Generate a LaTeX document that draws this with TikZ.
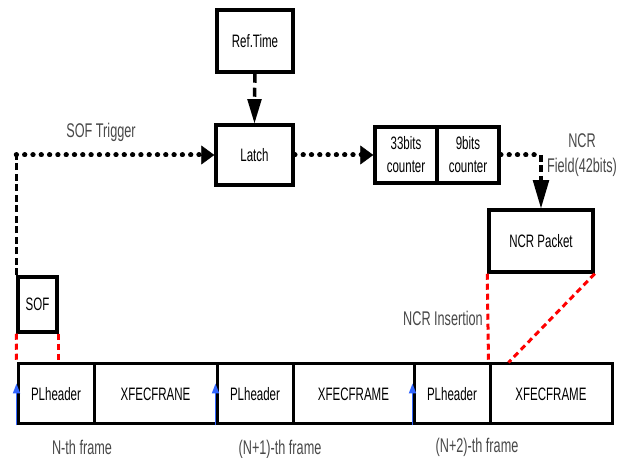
\documentclass[tikz,border=0pt]{standalone}
\usepackage{fontspec}
\setmainfont[FakeStretch=0.64]{Liberation Sans}
\usetikzlibrary{arrows.meta}

\definecolor{lblgray}{HTML}{484848}
\definecolor{mkblue}{HTML}{3366FF}

\begin{document}
\begin{tikzpicture}[x=1pt,y=1pt,
    font=\fontsize{18}{23}\selectfont,
    blk/.style={draw,line width=3.5pt,minimum height=60pt,inner sep=0pt,align=center},
    cell/.style={draw,line width=3pt,minimum height=60pt,inner sep=0pt},
    lbl/.style={text=lblgray,align=center,font=\fontsize{19.8}{25}\selectfont},
    htip/.style={-{Triangle[length=13pt,width=19pt]}},
    vtip/.style={-{Triangle[length=24pt,width=14pt]}},
    dotline/.style={line width=5pt,line cap=round,dash pattern=on 0.3pt off 8pt},
    dashline/.style={line width=3.5pt,dash pattern=on 7pt off 3.5pt},
    reddash/.style={red,line width=3pt,dash pattern=on 6pt off 4pt},
    startmark/.style={mkblue,line width=1.8pt,-{Triangle[length=10pt,width=7pt]}}]

      \useasboundingbox (0,0) rectangle (625,458);

      \path (255,417) node [blk,minimum width=76pt,minimum height=62pt](reftime){Ref.Time};
      \path (254.5,303) node [blk,minimum width=77pt](latch){Latch};
      \path (406,303) node [blk,minimum width=62pt,minimum height=56pt](cnt_a){33bits\\counter};
      \path (468,303) node [blk,minimum width=62pt,minimum height=56pt](cnt_b){9bits\\counter};
      \path (541,217) node [blk,minimum width=104pt,minimum height=62pt](ncr){NCR Packet};
      \path (37.5,153.5) node [blk,minimum width=39pt,minimum height=55pt](sof){SOF};

      \path (56,64) node [cell,minimum width=76pt](ph_a){PLheader};
      \path (155.5,64) node [cell,minimum width=123pt](xf_a){XFECFRANE};
      \path (255,64) node [cell,minimum width=76pt](ph_b){PLheader};
      \path (353.5,64) node [cell,minimum width=121pt](xf_b){XFECFRAME};
      \path (452,64) node [cell,minimum width=76pt](ph_c){PLheader};
      \path (551,64) node [cell,minimum width=122pt](xf_c){XFECFRAME};

      \path (101,326) node [lbl](lbl_trig){SOF Trigger};
      \path (582,303) node [lbl](lbl_field){NCR\\Field(42bits)};
      \path (443,140) node [lbl](lbl_ins){NCR Insertion};
      \path (82,11) node [lbl](lbl_n){N-th frame};
      \path (280,9) node [lbl](lbl_n1){(N+1)-th frame};
      \path (477,11) node [lbl](lbl_n2){(N+2)-th frame};

      \coordinate (trig_corner) at (sof.north west |- latch.west);
      \coordinate (ncr_corner) at (ncr.north |- cnt_b.east);

      \draw[dashline] (sof.north west) -- (trig_corner);
      \draw[dotline] (trig_corner) -- ([xshift=-12pt]latch.west);
      \draw[htip] ([xshift=-13pt]latch.west) -- (latch.west);
      \draw[dashline,dash pattern=on 9pt off 5pt] (reftime.south) -- ([yshift=23pt]latch.north);
      \draw[vtip,line width=2pt] ([yshift=24pt]latch.north) -- (latch.north);
      \draw[dotline] (latch.east) -- ([xshift=-12pt]cnt_a.west);
      \draw[htip] ([xshift=-13pt]cnt_a.west) -- (cnt_a.west);
      \draw[dotline] (cnt_b.east) -- (ncr_corner);
      \draw[dashline] (ncr_corner) -- ([yshift=27pt]ncr.north);
      \draw[vtip,line width=2pt,-{Triangle[length=28pt,width=16pt]}] ([yshift=28pt]ncr.north) -- (ncr.north);

      \draw[reddash] (sof.south west) -- (ph_a.north west);
      \draw[reddash] (sof.south east) -- (sof.south east |- ph_a.north);
      \draw[reddash] (ncr.south west) -- (xf_c.north west);
      \draw[reddash] (ncr.south east) -- ([xshift=20pt]xf_c.north west);

      \draw[startmark] (ph_a.south west) -- ([yshift=42pt]ph_a.south west);
      \draw[startmark] (ph_b.south west) -- ([yshift=42pt]ph_b.south west);
      \draw[startmark] (ph_c.south west) -- ([yshift=42pt]ph_c.south west);

    \end{tikzpicture}
\end{document}
